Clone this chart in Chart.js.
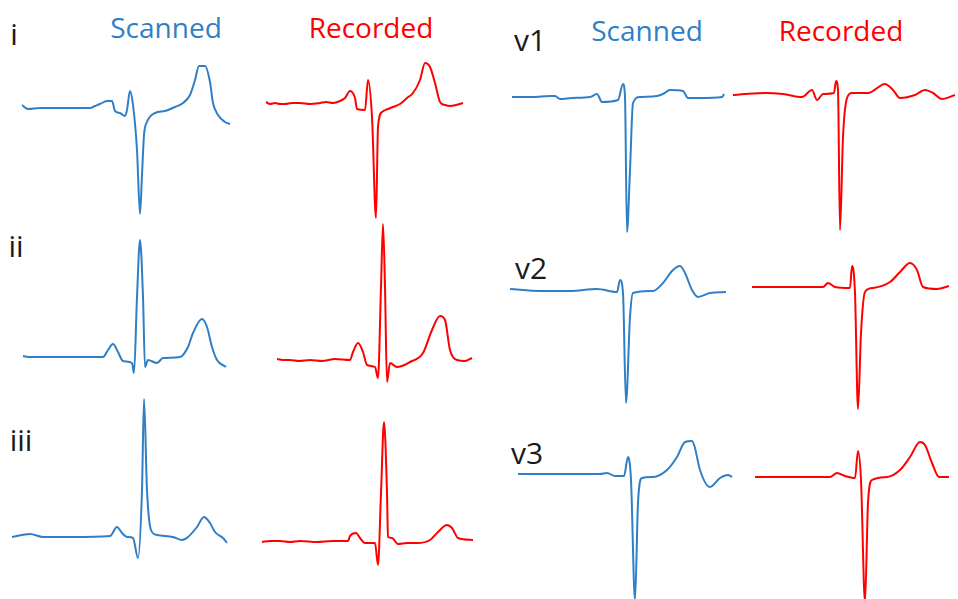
<!DOCTYPE html>
<html>
<head>
<meta charset="utf-8">
<script src="https://cdn.jsdelivr.net/npm/chart.js@4.4.1/dist/chart.umd.min.js"></script>
<style>
  html, body { margin:0; padding:0; background:#fff; }
  #wrap { position:relative; width:958px; height:599px; overflow:hidden; background:#fff; }
  .lbl { position:absolute; font-family:"Open Sans", sans-serif; font-size:28px; line-height:1; white-space:nowrap; transform:translate(-50%,-50%); }
  .lead { color:#1a1a1a; font-size:30px; }
  .blue { color:#2f7fc6; }
  .red { color:#ff0000; }
  canvas.p { position:absolute; }
</style>
</head>
<body>
<div id="wrap">
  <div class="lbl lead" style="left:14px;top:34px;">i</div>
  <div class="lbl blue" style="left:166px;top:27px;">Scanned</div>
  <div class="lbl red" style="left:371px;top:27px;">Recorded</div>
  <div class="lbl lead" style="left:530px;top:40px;">v1</div>
  <div class="lbl blue" style="left:647px;top:30px;">Scanned</div>
  <div class="lbl red" style="left:841px;top:30px;">Recorded</div>
  <div class="lbl lead" style="left:16px;top:246px;">ii</div>
  <div class="lbl lead" style="left:21px;top:440px;">iii</div>
  <div class="lbl lead" style="left:531px;top:268px;">v2</div>
  <div class="lbl lead" style="left:527px;top:453px;">v3</div>
</div>
<script>
// ---- Data: time offset (samples) and amplitude (relative to baseline) per trace ----
const leadNames = ["i", "ii", "iii", "v1", "v2", "v3"];
const sourceNames = ["Scanned", "Recorded"];

const iScannedT = [0,6,18,38,68,73,78,85,90,93,98,103,105,108,111,115,118,120,122,125,133,143,153,161,168,173,177,183,188,191,196,203,208];
const iScannedV = [3,-1,0,0,0,2,4,7,7,-3,-5,-8,-2,17,3,-42,-106,-67,-27,-14,-5,-3,1,5,13,28,42,42,26,5,-7,-14,-16];

const iRecordedT = [0,4,9,14,19,26,34,44,54,60,67,74,79,84,89,91,99,102,106,110,112,116,122,127,134,141,147,154,159,164,169,174,179,184,190,197];
const iRecordedV = [1,-1,0,-1,-1,0,0,-1,0,1,0,2,5,12,5,-6,-7,23,-14,-115,-24,-9,-6,-4,-1,5,10,23,40,36,20,1,-2,-3,-2,0];

const iiScannedT = [0,7,27,50,80,85,90,95,100,109,111,114,117,120,122,125,134,140,157,165,170,179,184,189,194,203];
const iiScannedV = [1,0,0,0,0,7,13,5,-4,-6,-16,60,117,60,-10,-3,-6,-1,0,10,24,38,30,10,-3,-10];

const iiRecordedT = [0,8,13,22,33,45,58,73,76,81,86,90,98,101,104,106,108,110,113,120,133,146,155,163,168,173,180,188,195];
const iiRecordedV = [1,0,0,-1,0,-1,1,0,8,17,8,-5,-7,-18,73,136,73,-22,-3,-7,-2,7,30,44,40,10,0,-1,2];

const iiiScannedT = [0,18,31,60,98,105,110,115,121,126,130,132,135,139,145,161,170,176,185,192,198,203,211,215];
const iiiScannedV = [0,3,0,0,1,10,4,0,-1,-21,47,138,47,7,2,0,-3,0,10,20,14,5,-1,-6];

const iiiRecordedT = [0,8,18,28,38,55,70,86,88,94,98,103,113,116,119,122,125,126,130,136,145,155,168,176,185,190,196,211];
const iiiRecordedV = [-1,0,0,-1,0,-1,0,0,5,8,3,-2,-2,-24,48,119,48,4,3,-3,-2,-2,1,9,16,13,3,1];

const v1ScannedT = [0,20,38,43,48,60,78,85,90,106,111,113,115,118,121,128,145,151,158,171,176,188,210,212];
const v1ScannedV = [0,0,1,1,-2,-1,0,3,-5,-3,13,0,-135,-73,-6,0,1,3,7,6,-1,-1,0,3];

const v1RecordedT = [0,12,32,50,69,79,84,90,101,103,105,107,110,114,119,135,152,160,167,182,192,200,209,222];
const v1RecordedV = [-1,0,1,0,-3,4,-6,0,1,13,4,-136,-43,-4,1,1,10,4,-4,-1,4,1,-5,-1];

const v2ScannedT = [0,30,60,87,107,110,113,116,120,123,143,153,163,170,175,182,188,200,216];
const v2ScannedV = [2,0,0,2,-1,11,-2,-112,-26,-2,0,8,21,25,18,1,-6,-2,-1];

const v2RecordedT = [0,38,71,76,83,98,100,103,106,109,113,121,138,148,158,165,171,185,197];
const v2RecordedV = [0,0,0,4,0,-1,21,-6,-122,-46,-5,-1,5,15,24,17,0,-2,1];

const v3ScannedT = [0,42,82,89,97,106,110,113,117,120,124,135,149,159,167,174,177,179,182,192,202,210,214];
const v3ScannedV = [0,0,0,1,-2,-2,17,-6,-126,-29,-4,-3,4,17,32,33,26,17,4,-13,-4,-1,-3];

const v3RecordedT = [0,45,75,82,90,100,103,106,110,113,117,132,145,155,165,170,177,184,194];
const v3RecordedV = [0,0,0,4,1,-1,26,-3,-125,-26,-3,0,7,20,35,32,14,0,0];

// ---- Layout (placement of each small chart; not data) ----
const BLUE = "#2f7fc6", RED = "#ff0000";
const panels = [
  { t:iScannedT,   v:iScannedV,   c:BLUE, x0:22,  base:108, box:[10,55,235,170] },
  { t:iRecordedT,  v:iRecordedV,  c:RED,  x0:266, base:103, box:[255,55,220,170] },
  { t:iiScannedT,  v:iiScannedV,  c:BLUE, x0:23,  base:357, box:[10,230,235,150] },
  { t:iiRecordedT, v:iiRecordedV, c:RED,  x0:277, base:360, box:[262,215,220,175] },
  { t:iiiScannedT, v:iiiScannedV, c:BLUE, x0:12,  base:537, box:[2,390,240,180] },
  { t:iiiRecordedT,v:iiiRecordedV,c:RED,  x0:262, base:541, box:[250,410,235,165] },
  { t:v1ScannedT,  v:v1ScannedV,  c:BLUE, x0:512, base:97,  box:[500,70,235,170] },
  { t:v1RecordedT, v:v1RecordedV, c:RED,  x0:733, base:94,  box:[722,70,236,170] },
  { t:v2ScannedT,  v:v2ScannedV,  c:BLUE, x0:510, base:291, box:[500,255,235,155] },
  { t:v2RecordedT, v:v2RecordedV, c:RED,  x0:752, base:287, box:[740,250,218,165] },
  { t:v3ScannedT,  v:v3ScannedV,  c:BLUE, x0:518, base:474, box:[505,430,240,169] },
  { t:v3RecordedT, v:v3RecordedV, c:RED,  x0:755, base:477, box:[742,430,216,169] }
];

const wrap = document.getElementById("wrap");
panels.forEach((p, i) => {
  const [L, T, W, H] = p.box;
  const cv = document.createElement("canvas");
  cv.className = "p";
  cv.style.left = L + "px"; cv.style.top = T + "px";
  cv.style.width = W + "px"; cv.style.height = H + "px";
  cv.width = W; cv.height = H;
  wrap.appendChild(cv);
  const pts = p.t.map((t, k) => ({ x: t, y: p.v[k] }));
  new Chart(cv, {
    type: "scatter",
    data: { datasets: [{
      label: leadNames[[0,0,1,1,2,2,3,3,4,4,5,5][i]] + " " + sourceNames[i % 2],
      data: pts, showLine: true, borderColor: p.c, borderWidth: 2,
      pointRadius: 0, cubicInterpolationMode: "monotone", clip: false
    }]},
    options: {
      responsive: false, animation: false, maintainAspectRatio: false,
      layout: { padding: 0 },
      plugins: { legend: { display: false }, tooltip: { enabled: false } },
      scales: {
        x: { type: "linear", display: false, min: L - p.x0, max: L + W - p.x0 },
        y: { type: "linear", display: false, min: p.base - T - H, max: p.base - T }
      }
    }
  });
});
</script>
</body>
</html>
